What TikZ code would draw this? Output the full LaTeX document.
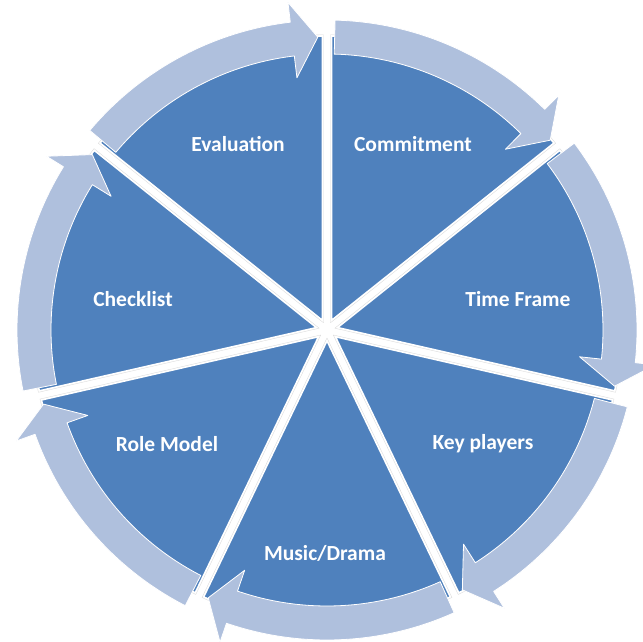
\documentclass[tikz,border=0pt]{standalone}
\usepackage{fontspec}
\setmainfont{Carlito}
\definecolor{pieblue}{HTML}{4F81BD}
\definecolor{ringblue}{HTML}{AFC0DD}
\begin{document}
\begin{tikzpicture}[x=1pt,y=1pt,
  sector/.style={fill=pieblue, draw=white, line width=4pt, line join=round},
  sectorline/.style={draw=black!15, line width=0.35pt, line join=round},
  ringarrow/.style={fill=ringblue, draw=white, line width=0.8pt, line join=round},
  lbl/.style={text=white, font=\fontsize{21.5}{26}\selectfont\bfseries}]
\useasboundingbox (-327,-312) rectangle (316,330);
\def\R{288}
\foreach \k in {0,...,6}{
  \pgfmathsetmacro\angA{90-\k*360/7}
  \pgfmathsetmacro\angB{90-(\k+1)*360/7}
  \pgfmathsetmacro\angM{(\angA+\angB)/2}
  \path[sector, shift={(\angM:8)}] (0,0) -- (\angA:\R) arc[start angle=\angA, end angle=\angB, radius=\R] -- cycle;
  \path[sectorline, shift={(\angM:8)}] (0,0) -- (\angA:\R) arc[start angle=\angA, end angle=\angB, radius=\R] -- cycle;
}
\foreach \k in {0,...,6}{
  \pgfmathsetmacro\arT{90-\k*360/7-1.5}
  \pgfmathsetmacro\arP{90-(\k+1)*360/7+1.8}
  \pgfmathsetmacro\arH{\arP+5}
  \path[ringarrow] (\arT:310) arc[start angle=\arT, end angle=\arH, radius=310]
    -- (\arH:330) -- (\arP:293) -- (\arH:254) -- (\arH:276)
    arc[start angle=\arH, end angle=\arT, radius=276] -- cycle;
}
\node[lbl] (evaluation) at (-89,186) {Evaluation};
\node[lbl] (commitment) at (86,186) {Commitment};
\node[lbl] (timeframe) at (191,31) {Time Frame};
\node[lbl] (keyplayers) at (156,-114) {Key players};
\node[lbl] (musicdrama) at (-2,-223) {Music/Drama};
\node[lbl] (rolemodel) at (-160,-114) {Role Model};
\node[lbl] (checklist) at (-194,31) {Checklist};
\end{tikzpicture}
\end{document}
